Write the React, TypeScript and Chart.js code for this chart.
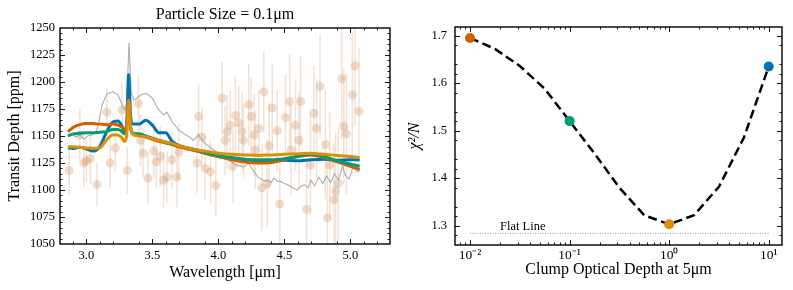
import React, { useEffect, useRef } from "react";
import { Chart, registerables } from "chart.js";
Chart.register(...registerables);

const FONT = "'Liberation Serif', 'Times New Roman', serif";
Chart.defaults.font.family = FONT;
Chart.defaults.color = "#000";

// ---------------- Left panel data ----------------
const modelWave = [2.86, 2.9, 2.95, 3.0, 3.05, 3.1, 3.15, 3.2, 3.24, 3.27, 3.29, 3.305, 3.32, 3.335, 3.35, 3.4, 3.45, 3.5, 3.55, 3.6, 3.65, 3.7, 3.8, 3.9, 4.0, 4.1, 4.2, 4.3, 4.4, 4.5, 4.6, 4.7, 4.8, 4.9, 5.0, 5.07];
const depthTau10 = [1139, 1138.5, 1139.5, 1138, 1136, 1140, 1153, 1163, 1164, 1159, 1154, 1160, 1207, 1168, 1161, 1161, 1164.5, 1160, 1153, 1153, 1145, 1141, 1138, 1134, 1131, 1129, 1127, 1127, 1127, 1127.5, 1127, 1128, 1128.5, 1127.5, 1128, 1128];
const depthTau01 = [1150, 1152, 1152.5, 1153, 1153, 1153.5, 1154, 1156, 1156, 1154, 1152, 1156, 1178, 1158, 1153, 1152, 1150, 1148, 1146, 1144.5, 1142.5, 1141, 1138, 1135, 1132, 1130, 1128.5, 1128, 1128, 1129, 1131, 1133, 1131, 1127, 1124, 1122];
const depthTau001 = [1154, 1158, 1160.5, 1161.5, 1161.5, 1161, 1160.5, 1161, 1160, 1158, 1156, 1160, 1183, 1158, 1152, 1151, 1149, 1147, 1145, 1143.5, 1142, 1140, 1137, 1134, 1131, 1128, 1126, 1125, 1125.5, 1128, 1131, 1132.5, 1130, 1126, 1122, 1119];
const depthTau1 = [1140, 1140, 1139.5, 1139, 1138.5, 1139, 1146, 1151, 1151, 1148, 1145, 1150, 1183, 1158, 1152, 1150, 1149, 1147.5, 1146, 1144.5, 1143, 1141, 1138, 1136, 1134, 1133, 1132.5, 1132, 1132.5, 1133, 1133.5, 1134, 1133, 1132, 1131, 1130];

const clearWave = [2.86, 2.89, 2.92, 2.95, 2.98, 3.01, 3.04, 3.07, 3.09, 3.12, 3.155, 3.2, 3.24, 3.27, 3.29, 3.305, 3.323, 3.34, 3.36, 3.38, 3.41, 3.445, 3.47, 3.5, 3.53, 3.55, 3.585, 3.61, 3.65, 3.7, 3.74, 3.78, 3.81, 3.85, 3.89, 3.95, 4.0, 4.03, 4.07, 4.1, 4.14, 4.19, 4.23, 4.27, 4.3, 4.32, 4.35, 4.37, 4.4, 4.42, 4.45, 4.47, 4.5, 4.53, 4.56, 4.6, 4.62, 4.65, 4.68, 4.7, 4.73, 4.76, 4.79, 4.82, 4.85, 4.88, 4.91, 4.94, 4.96, 4.99, 5.02, 5.05, 5.07];
const clearDepth = [1150, 1152, 1149, 1151, 1147, 1150, 1151, 1153, 1160, 1179, 1189, 1191, 1188, 1179, 1174, 1180, 1236, 1190, 1183, 1185, 1188, 1189.5, 1188, 1185, 1178, 1174, 1169.5, 1172, 1163, 1155.5, 1152, 1149, 1146, 1151, 1144, 1138.5, 1134, 1132, 1128, 1126, 1123, 1121.5, 1124.5, 1117, 1112, 1110.5, 1108, 1109, 1107, 1111, 1108, 1108, 1106, 1104.5, 1102, 1100, 1103, 1105, 1102, 1109, 1104, 1112, 1106, 1113, 1107, 1115, 1109, 1122, 1114, 1110, 1121, 1117, 1118];

const obsWave = [2.87, 2.95, 2.98, 3.0, 3.03, 3.08, 3.155, 3.18, 3.22, 3.27, 3.31, 3.395, 3.41, 3.43, 3.466, 3.51, 3.53, 3.56, 3.585, 3.61, 3.648, 3.686, 3.7, 3.838, 3.85, 3.876, 3.9, 3.94, 3.98, 4.028, 4.05, 4.066, 4.09, 4.11, 4.129, 4.154, 4.18, 4.19, 4.23, 4.248, 4.27, 4.28, 4.306, 4.33, 4.344, 4.37, 4.385, 4.408, 4.445, 4.465, 4.508, 4.54, 4.55, 4.584, 4.61, 4.622, 4.668, 4.698, 4.723, 4.744, 4.77, 4.81, 4.825, 4.843, 4.875, 4.888, 4.908, 4.934, 4.95, 4.97, 5.015, 5.035, 5.065];
const obsDepth = [1118, 1151, 1125, 1127, 1129, 1105, 1172, 1125, 1139, 1174, 1118, 1180, 1146, 1134, 1111, 1136, 1126, 1131, 1109, 1112, 1128, 1112, 1135, 1125, 1168, 1149, 1120, 1117, 1104, 1185, 1146, 1154, 1160, 1122, 1169, 1162, 1154, 1146, 1179, 1168, 1151, 1137, 1157, 1102, 1191, 1106, 1141, 1176, 1155, 1087, 1167, 1182, 1137, 1160, 1146, 1182, 1082, 1123, 1171, 1157, 1196, 1142, 1074, 1123, 1091, 1099, 1106, 1203, 1159, 1152, 1188, 1215, 1173];
const obsErr = [22, 24, 22, 20, 24, 20, 22, 24, 22, 25, 22, 26, 24, 22, 24, 26, 24, 28, 26, 24, 26, 28, 26, 28, 30, 28, 30, 30, 28, 34, 32, 34, 32, 34, 36, 34, 36, 34, 38, 36, 38, 36, 36, 40, 38, 40, 40, 40, 38, 42, 40, 44, 42, 42, 44, 42, 46, 46, 44, 46, 48, 50, 52, 50, 52, 54, 52, 56, 54, 56, 58, 56, 58];

const leftTitle = "Particle Size = 0.1\u03bcm";
const leftXLabel = "Wavelength [\u03bcm]";
const leftYLabel = "Transit Depth [ppm]";
const leftXTicks = [3.0, 3.5, 4.0, 4.5, 5.0];
const leftYTicks = [1050, 1075, 1100, 1125, 1150, 1175, 1200, 1225, 1250];

// ---------------- Right panel data ----------------
const chiTau = [0.01, 0.01778, 0.03162, 0.05623, 0.1, 0.1778, 0.3162, 0.5623, 1.0, 1.778, 3.162, 5.623, 10.0];
const chiVal = [1.695, 1.672, 1.636, 1.588, 1.52, 1.452, 1.38, 1.322, 1.303, 1.322, 1.382, 1.485, 1.635];
const markerTau = [0.01, 0.1, 1, 10];
const markerChi = [1.695, 1.52, 1.303, 1.635];
const markerColors = ["#D55E00", "#029E73", "#DE8F05", "#0173B2"];
const flatChi = 1.284;
const flatTauRange = [0.01, 10];
const flatLabel = "Flat Line";
const flatLabelTau = 0.02;
const flatLabelChi = 1.292;

const rightXLabel = "Clump Optical Depth at 5\u03bcm";
const rightYLabel = "\u03c7\u00b2/N";
const rightXTicks = [0.01, 0.1, 1, 10];
const rightXTickLabels = ["10\u207b\u00b2", "10\u207b\u00b9", "10\u2070", "10\u00b9"];
const rightYTicks = [1.3, 1.4, 1.5, 1.6, 1.7];

// ---------------- helpers ----------------
function steps(a: number, b: number, s: number, skipEvery: number) {
  const out: number[] = [];
  const n = Math.round((b - a) / s);
  for (let i = 0; i <= n; i++) if (i % skipEvery !== 0) out.push(+(a + i * s).toFixed(6));
  return out;
}
function logMinors(minExp: number, maxExp: number) {
  const out: number[] = [];
  for (let e = minExp; e <= maxExp; e++) for (let m = 2; m <= 9; m++) out.push(m * Math.pow(10, e));
  return out;
}

function makeFrame(xMinor: number[], yMinor: number[], extra?: (chart: any) => void) {
  return {
    id: "frame",
    afterDatasetsDraw(chart: any) {
      const { ctx, chartArea: a, scales } = chart;
      const xs = scales.x;
      const ys = scales.y;
      ctx.save();
      ctx.strokeStyle = "#000";
      ctx.lineWidth = 0.9;
      ctx.beginPath();
      const vx = (v: number, len: number) => {
        const p = Math.round(xs.getPixelForValue(v)) + 0.5;
        if (p < a.left + 1 || p > a.right - 1) return;
        ctx.moveTo(p, a.bottom);
        ctx.lineTo(p, a.bottom - len);
        ctx.moveTo(p, a.top);
        ctx.lineTo(p, a.top + len);
      };
      const hy = (v: number, len: number) => {
        const p = Math.round(ys.getPixelForValue(v)) + 0.5;
        if (p < a.top + 1 || p > a.bottom - 1) return;
        ctx.moveTo(a.left, p);
        ctx.lineTo(a.left + len, p);
        ctx.moveTo(a.right, p);
        ctx.lineTo(a.right - len, p);
      };
      xs.ticks.forEach((t: any) => vx(t.value, 5));
      xMinor.forEach((v) => vx(v, 2.5));
      ys.ticks.forEach((t: any) => hy(t.value, 5));
      yMinor.forEach((v) => hy(v, 2.5));
      ctx.stroke();
      ctx.lineWidth = 1.4;
      ctx.strokeRect(a.left, a.top, a.right - a.left, a.bottom - a.top);
      if (extra) extra(chart);
      ctx.restore();
    },
  };
}

const tickFont = { family: FONT, size: 12.5 };
const labelFont = { family: FONT, size: 16 };

function lineSet(wave: number[], vals: number[], color: string, width: number, smooth: boolean) {
  return {
    data: wave.map((x, i) => ({ x, y: vals[i] })),
    showLine: true,
    borderColor: color,
    borderWidth: width,
    pointRadius: 0,
    cubicInterpolationMode: smooth ? "monotone" : "default",
    tension: 0,
  } as any;
}

function LeftPanel() {
  const ref = useRef<HTMLCanvasElement>(null);
  useEffect(() => {
    const errData: any[] = [];
    obsWave.forEach((w, i) => {
      errData.push({ x: w, y: obsDepth[i] - obsErr[i] }, { x: w, y: obsDepth[i] + obsErr[i] }, { x: w, y: null });
    });
    const chart = new Chart(ref.current as HTMLCanvasElement, {
      type: "scatter",
      data: {
        datasets: [
          lineSet(modelWave, depthTau1, "#DE8F05", 3, true),
          lineSet(modelWave, depthTau01, "#029E73", 3, true),
          lineSet(modelWave, depthTau001, "#D55E00", 3, true),
          lineSet(modelWave, depthTau10, "#0173B2", 3, true),
          lineSet(clearWave, clearDepth, "rgba(160,160,160,0.8)", 1.2, false),
          {
            data: obsWave.map((x, i) => ({ x, y: obsDepth[i] })),
            showLine: false,
            pointRadius: 4.5,
            pointBackgroundColor: "rgba(205,140,90,0.3)",
            pointBorderWidth: 0,
          } as any,
          {
            data: errData,
            showLine: true,
            spanGaps: false,
            borderColor: "rgba(205,140,90,0.25)",
            borderWidth: 1.5,
            pointRadius: 0,
          } as any,
        ],
      },
      options: {
        animation: false,
        responsive: false,
        events: [],
        layout: { padding: { left: 0, right: 10, top: 0, bottom: 0 } },
        plugins: {
          legend: { display: false },
          tooltip: { enabled: false },
          title: {
            display: true,
            text: leftTitle,
            font: { ...labelFont, weight: "normal" },
            color: "#000",
            padding: { top: 4.9, bottom: 3.9 },
            fullSize: false,
          },
        },
        scales: {
          x: {
            type: "linear",
            min: 2.8,
            max: 5.3,
            afterBuildTicks: (ax: any) => {
              ax.ticks = leftXTicks.map((v) => ({ value: v }));
            },
            ticks: { font: tickFont, color: "#000", padding: 4, maxRotation: 0, autoSkip: false, callback: (v: any) => Number(v).toFixed(1) },
            grid: { display: false, drawTicks: false },
            border: { display: false },
            title: { display: true, text: leftXLabel, font: labelFont, color: "#000", padding: { top: 0, bottom: 7.9 } },
            afterFit: (s: any) => {
              s.height = 46;
            },
          },
          y: {
            type: "linear",
            min: 1050,
            max: 1250,
            afterBuildTicks: (ax: any) => {
              ax.ticks = leftYTicks.map((v) => ({ value: v }));
            },
            ticks: { font: tickFont, color: "#000", padding: 5, autoSkip: false, callback: (v: any) => String(v) },
            grid: { display: false, drawTicks: false },
            border: { display: false },
            title: { display: true, text: leftYLabel, font: labelFont, color: "#000", padding: { top: 5.4, bottom: 0 } },
            afterFit: (s: any) => {
              s.width = 60;
            },
          },
        },
      } as any,
      plugins: [makeFrame(steps(2.8, 5.3, 0.1, 5), steps(1050, 1250, 5, 5))],
    });
    return () => chart.destroy();
  }, []);
  return <canvas ref={ref} width={400} height={290} style={{ display: "block" }} />;
}

function RightPanel() {
  const ref = useRef<HTMLCanvasElement>(null);
  useEffect(() => {
    const drawLabel = (chart: any) => {
      const { ctx, scales } = chart;
      ctx.fillStyle = "#000";
      ctx.font = `12.5px ${FONT}`;
      ctx.textAlign = "left";
      ctx.textBaseline = "alphabetic";
      ctx.fillText(flatLabel, scales.x.getPixelForValue(flatLabelTau), scales.y.getPixelForValue(flatLabelChi));
    };
    const chart = new Chart(ref.current as HTMLCanvasElement, {
      type: "scatter",
      data: {
        datasets: [
          {
            data: markerTau.map((x, i) => ({ x, y: markerChi[i] })),
            showLine: false,
            pointRadius: 5,
            pointBackgroundColor: markerColors,
            pointBorderWidth: 0,
          } as any,
          {
            data: chiTau.map((x, i) => ({ x, y: chiVal[i] })),
            showLine: true,
            borderColor: "#000",
            borderWidth: 2.5,
            borderDash: [9, 4.5],
            pointRadius: 0,
            tension: 0,
          } as any,
          {
            data: flatTauRange.map((x) => ({ x, y: flatChi })),
            showLine: true,
            borderColor: "#777",
            borderWidth: 0.8,
            borderDash: [1, 1.5],
            pointRadius: 0,
          } as any,
        ],
      },
      options: {
        animation: false,
        responsive: false,
        events: [],
        layout: { padding: { left: 0, right: 11, top: 27, bottom: 0 } },
        plugins: { legend: { display: false }, tooltip: { enabled: false } },
        scales: {
          x: {
            type: "logarithmic",
            min: 0.00706,
            max: 13.6,
            afterBuildTicks: (ax: any) => {
              ax.ticks = rightXTicks.map((v) => ({ value: v }));
            },
            ticks: { font: { family: FONT, size: 13.5 }, color: "#000", padding: 2, maxRotation: 0, autoSkip: false, callback: (_v: any, i: number) => rightXTickLabels[i] },
            grid: { display: false, drawTicks: false },
            border: { display: false },
            title: { display: true, text: rightXLabel, font: labelFont, color: "#000", padding: { top: 0, bottom: 10.4 } },
            afterFit: (s: any) => {
              s.height = 45;
            },
          },
          y: {
            type: "linear",
            min: 1.2594,
            max: 1.718,
            afterBuildTicks: (ax: any) => {
              ax.ticks = rightYTicks.map((v) => ({ value: v }));
            },
            ticks: { font: tickFont, color: "#000", padding: 8, autoSkip: false, callback: (v: any) => Number(v).toFixed(1) },
            grid: { display: false, drawTicks: false },
            border: { display: false },
            title: { display: true, text: rightYLabel, font: { ...labelFont, style: "italic" }, color: "#000", padding: { top: 5.4, bottom: 0 } },
            afterFit: (s: any) => {
              s.width = 55;
            },
          },
        },
      } as any,
      plugins: [makeFrame(logMinors(-3, 0).filter((v) => v > 0.00706 && v < 13.6), steps(1.26, 1.72, 0.02, 5).filter((v) => v > 1.2594 && v < 1.718), drawLabel)],
    });
    return () => chart.destroy();
  }, []);
  return <canvas ref={ref} width={393} height={290} style={{ display: "block" }} />;
}

export default function App() {
  return (
    <div style={{ position: "fixed", left: 0, top: 0, width: 793, height: 290, background: "#fff" }}>
      <div style={{ position: "absolute", left: 0, top: 0 }}>
        <LeftPanel />
      </div>
      <div style={{ position: "absolute", left: 400, top: 0 }}>
        <RightPanel />
      </div>
    </div>
  );
}
